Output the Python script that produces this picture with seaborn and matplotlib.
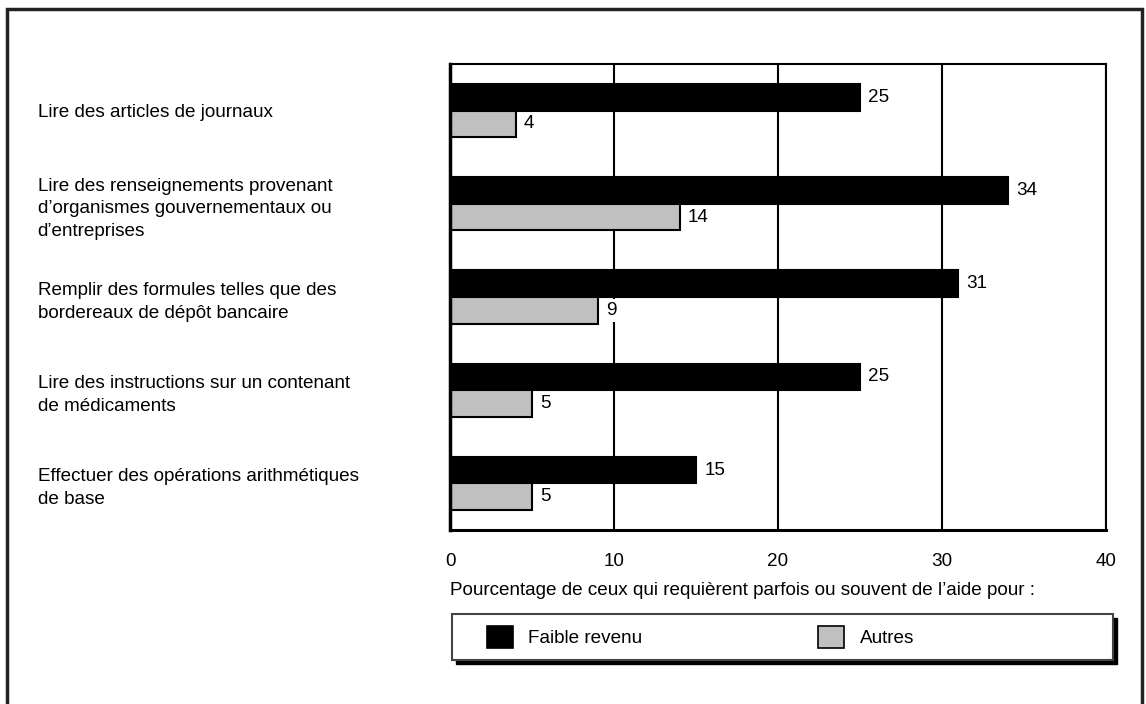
import matplotlib
matplotlib.use("Agg")
import matplotlib.pyplot as plt
import seaborn as sns
import pandas as pd
from matplotlib.patches import Rectangle

categories = [
    "Lire des articles de journaux",
    "Lire des renseignements provenant\nd\u2019organismes gouvernementaux ou\nd\u2019entreprises",
    "Remplir des formules telles que des\nbordereaux de dépôt bancaire",
    "Lire des instructions sur un contenant\nde médicaments",
    "Effectuer des opérations arithmétiques\nde base",
]
faible_revenu = [25, 34, 31, 25, 15]
autres = [4, 14, 9, 5, 5]
series_names = ["Faible revenu", "Autres"]
xticks = [0, 10, 20, 30, 40]
xlabel = "Pourcentage de ceux qui requièrent parfois ou souvent de l\u2019aide pour :"

df = pd.DataFrame({
    "categorie": categories * 2,
    "valeur": faible_revenu + autres,
    "groupe": [series_names[0]] * len(categories) + [series_names[1]] * len(categories),
})

sns.set_style("white")
FS = 13.6
plt.rcParams["font.family"] = ["Liberation Sans Narrow", "Liberation Sans", "DejaVu Sans"]
plt.rcParams["font.size"] = FS
plt.rcParams["text.color"] = "black"
plt.rcParams["xtick.color"] = "black"
plt.rcParams["ytick.color"] = "black"
plt.rcParams["axes.labelcolor"] = "black"

W, H = 1146, 704
fig = plt.figure(figsize=(W / 100, H / 100), dpi=100)
ax = fig.add_axes([450 / W, 1 - 530 / H, (1106 - 450) / W, (530 - 64) / H])

sns.barplot(data=df, x="valeur", y="categorie", hue="groupe", hue_order=series_names,
            order=categories, palette=["#000000", "#c0c0c0"], orient="h",
            width=0.57, edgecolor="black", linewidth=1.5, ax=ax, legend=False)

for cont in ax.containers:
    texts = ax.bar_label(cont, padding=6, fontsize=FS)
    for t in texts:
        t.set_bbox(dict(facecolor="white", edgecolor="none", pad=2))

ax.set_xlim(0, 40)
ax.set_ylim(len(categories) - 0.5, -0.5)
ax.set_xticks(xticks)
ax.set_xticklabels([str(t) for t in xticks])
ax.xaxis.grid(True, color="black", linewidth=1.5)
ax.set_axisbelow(True)
ax.tick_params(axis="x", length=0, pad=16.5, labelsize=FS)
ax.tick_params(axis="y", length=0, pad=297, labelsize=FS)
for lab in ax.get_yticklabels():
    lab.set_horizontalalignment("left")
    lab.set_multialignment("left")
    lab.set_linespacing(1.43)
ax.set_ylabel("")
ax.set_xlabel(xlabel, loc="left", fontsize=FS, labelpad=9)

for side, lw in [("left", 2.5), ("bottom", 2.2), ("top", 1.5), ("right", 1.5)]:
    ax.spines[side].set_visible(True)
    ax.spines[side].set_color("black")
    ax.spines[side].set_linewidth(lw)

# outer frame
fig.patches.append(Rectangle((7 / W, -0.02), (1142 - 7) / W, 1 - 9 / H + 0.02,
                             transform=fig.transFigure, fill=False,
                             edgecolor="#222222", linewidth=2.5))

# legend box with shadow
bx0, bx1, by0, by1 = 452, 1113, 614, 660
fig.patches.append(Rectangle(((bx0 + 4) / W, 1 - (by1 + 4) / H), (bx1 - bx0) / W, (by1 - by0) / H,
                             transform=fig.transFigure, facecolor="black", edgecolor="black"))
fig.patches.append(Rectangle((bx0 / W, 1 - by1 / H), (bx1 - bx0) / W, (by1 - by0) / H,
                             transform=fig.transFigure, facecolor="white", edgecolor="#444444",
                             linewidth=1.5))

handles = [Rectangle((0, 0), 1, 1, facecolor=c, edgecolor="black", linewidth=1.2)
           for c in ["#000000", "#c0c0c0"]]
fig.legend(handles, series_names, loc="center left",
           bbox_to_anchor=(470 / W, 1 - 637 / H), ncol=2, frameon=False,
           fontsize=FS, handlelength=1.39, handleheight=1.45, handletextpad=0.8,
           columnspacing=9.3)

fig.savefig("out.png", dpi=100)
